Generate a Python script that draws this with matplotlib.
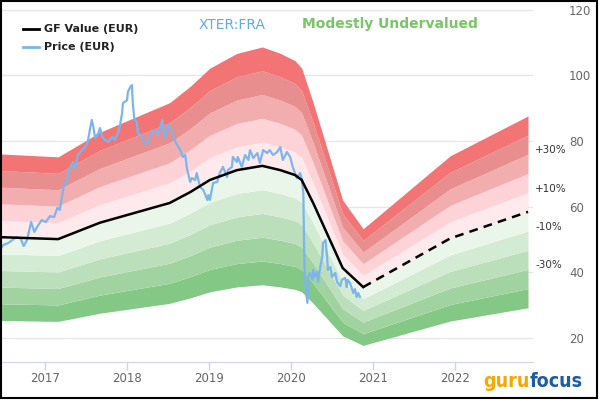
import matplotlib
matplotlib.use("Agg")
import matplotlib.pyplot as plt
import numpy as np
from matplotlib.patches import Rectangle

# GF Value (EUR), past part and projection
gf_dates = [2016.45, 2017.16, 2017.67, 2018.52, 2018.77, 2019.01, 2019.34, 2019.65,
            2019.87, 2020.05, 2020.13, 2020.27, 2020.63, 2020.88]
gf_values = [50.7, 50.1, 55.1, 61.1, 64.4, 68.1, 71.1, 72.4,
             71.1, 69.6, 68.1, 61.1, 41.3, 35.5]
proj_dates = [2020.88, 2021.94, 2022.89]
proj_values = [35.5, 50.3, 58.4]

# Price (EUR)
price_dates = [2016.45, 2016.49, 2016.55, 2016.60, 2016.65, 2016.70, 2016.74, 2016.78,
               2016.83, 2016.87, 2016.91, 2016.96, 2017.01, 2017.06, 2017.11, 2017.15,
               2017.18, 2017.21, 2017.23, 2017.27, 2017.30, 2017.34, 2017.37, 2017.40,
               2017.43, 2017.49, 2017.52, 2017.57, 2017.59, 2017.61, 2017.65, 2017.67,
               2017.70, 2017.73, 2017.77, 2017.82, 2017.85, 2017.89, 2017.91, 2017.94,
               2017.95, 2018.00, 2018.01, 2018.04, 2018.06, 2018.07, 2018.09, 2018.12,
               2018.13, 2018.18, 2018.19, 2018.24, 2018.26, 2018.30, 2018.34, 2018.38,
               2018.43, 2018.44, 2018.46, 2018.50, 2018.55, 2018.59, 2018.61, 2018.65,
               2018.68, 2018.71, 2018.73, 2018.77, 2018.79, 2018.83, 2018.85, 2018.89,
               2018.93, 2018.98, 2018.99, 2019.01, 2019.05, 2019.10, 2019.13, 2019.17,
               2019.22, 2019.23, 2019.28, 2019.29, 2019.34, 2019.35, 2019.40, 2019.44,
               2019.48, 2019.50, 2019.54, 2019.59, 2019.62, 2019.66, 2019.71, 2019.74,
               2019.78, 2019.83, 2019.87, 2019.90, 2019.95, 2019.99, 2020.02, 2020.07,
               2020.11, 2020.13, 2020.15, 2020.16, 2020.17, 2020.20, 2020.21, 2020.23,
               2020.26, 2020.27, 2020.29, 2020.32, 2020.33, 2020.35, 2020.38, 2020.39,
               2020.42, 2020.44, 2020.45, 2020.48, 2020.50, 2020.54, 2020.56, 2020.60,
               2020.62, 2020.66, 2020.68, 2020.69, 2020.72, 2020.74, 2020.76, 2020.78,
               2020.80, 2020.82, 2020.84]
price_values = [46.8, 48.3, 48.9, 49.8, 50.7, 50.4, 48.0, 49.8,
                55.3, 52.3, 54.1, 55.9, 55.3, 57.1, 56.8, 59.6,
                59.0, 63.5, 66.6, 68.1, 71.7, 73.6, 71.7, 75.7,
                76.6, 78.1, 79.7, 86.4, 84.2, 80.9, 82.4, 83.9,
                81.2, 80.3, 79.7, 81.2, 80.3, 82.4, 84.2, 88.5,
                91.5, 92.4, 94.9, 96.4, 97.0, 91.5, 86.4, 85.8,
                82.4, 81.8, 80.3, 78.8, 80.3, 82.4, 83.3, 81.8,
                86.4, 84.8, 80.9, 84.8, 83.3, 79.7, 78.8, 77.2,
                75.1, 75.7, 71.7, 67.5, 68.7, 68.1, 70.2, 66.0,
                65.1, 62.0, 63.5, 62.0, 67.2, 67.5, 70.2, 72.1,
                69.0, 71.1, 72.1, 75.1, 73.6, 75.1, 72.1, 75.7,
                74.2, 77.2, 74.8, 76.3, 73.3, 77.2, 76.3, 77.2,
                75.7, 76.6, 78.1, 74.2, 76.6, 75.1, 72.1, 68.7,
                70.2, 68.7, 64.1, 46.8, 36.7, 30.7, 38.6, 39.8,
                37.7, 40.7, 38.6, 40.1, 37.1, 40.7, 44.7, 48.9,
                49.8, 44.7, 40.7, 41.6, 38.6, 39.8, 37.1, 35.8,
                37.7, 38.3, 35.5, 37.7, 36.7, 35.2, 33.7, 34.9,
                32.5, 33.7, 32.5]

band_levels = [0.5, 0.6, 0.7, 0.8, 0.9, 1.0, 1.1, 1.2, 1.3, 1.4, 1.5]
band_colors = ['#84c885', '#a1d3a1', '#bcdfbb', '#d4ebd3', '#ebf6ea',
               '#feeaec', '#fdd3d7', '#f2aeae', '#e98e8e', '#f27474']
pct_labels = ['+30%', '+10%', '-10%', '-30%']
pct_levels = [1.3, 1.1, 0.9, 0.7]
year_ticks = [2017, 2018, 2019, 2020, 2021, 2022]
value_ticks = [20, 40, 60, 80, 100, 120]

plt.rcParams['font.family'] = ['DejaVu Sans']

fig = plt.figure(figsize=(6, 4.2), dpi=100)
# axes box in pixels: x 1..533, y 6..362 (from top)
ax = fig.add_axes([1 / 600, 1 - 362 / 420, 532 / 600, 356 / 420])

all_dates = np.array(gf_dates + proj_dates[1:])
all_gf = np.array(gf_values + proj_values[1:])
for i in range(len(band_levels) - 1):
    ax.fill_between(all_dates, all_gf * band_levels[i], all_gf * band_levels[i + 1],
                    color=band_colors[i], lw=0, zorder=1)

ax.plot(price_dates, price_values, color='#7cb5ec', lw=1.6, zorder=3)
ax.plot(gf_dates, gf_values, color='black', lw=1.8, zorder=4)
ax.plot(proj_dates, proj_values, color='black', lw=1.8, ls=(0, (3.5, 2.5)), zorder=4)

ax.set_xlim(2016.463, 2022.951)
ax.set_ylim(12.69, 121.07)

ax.set_yticks(value_ticks)
ax.yaxis.tick_right()
ax.tick_params(axis='y', length=0, pad=26, labelsize=8.5, labelcolor='#666666')
ax.grid(axis='y', color='#e6e6e6', lw=1)
ax.set_axisbelow(True)

ax.set_xticks(year_ticks)
ax.tick_params(axis='x', length=6, width=1, color='#ccd6eb', pad=1.5,
               labelsize=8.5, labelcolor='#666666')
for s in ['top', 'left', 'right']:
    ax.spines[s].set_visible(False)
ax.spines['bottom'].set_color('#ccd6eb')

gf_end = proj_values[-1]
for lab, lv in zip(pct_labels, pct_levels):
    ax.annotate(lab, xy=(1, gf_end * lv), xycoords=('axes fraction', 'data'),
                xytext=(1.5, 3), textcoords='offset points', ha='left', va='center',
                fontsize=7.5, color='#333333')

# legend
fig.lines.append(plt.Line2D([23 / 600, 39 / 600], [1 - 29 / 420] * 2, color='black',
                            lw=2, transform=fig.transFigure))
fig.lines.append(plt.Line2D([23 / 600, 39 / 600], [1 - 46.5 / 420] * 2, color='#7cb5ec',
                            lw=2, transform=fig.transFigure))
fig.text(44 / 600, 1 - 29 / 420, 'GF Value (EUR)', fontsize=8, weight='bold',
         color='#222222', va='center', ha='left')
fig.text(44 / 600, 1 - 46.5 / 420, 'Price (EUR)', fontsize=8, weight='bold',
         color='#222222', va='center', ha='left')
fig.text(232 / 600, 1 - 25 / 420, 'XTER:FRA', fontsize=10, color='#5fa9ef',
         va='center', ha='center')
fig.text(302 / 600, 1 - 24 / 420, 'Modestly Undervalued', fontsize=10, color='#78c668',
         va='center', ha='left', weight='bold')

# logo
fig.text(530 / 600, 1 - 387 / 420, 'guru', fontsize=14, weight='bold', color='#f5a800',
         fontstretch='condensed', ha='right', va='baseline')
fig.text(530 / 600, 1 - 387 / 420, 'focus', fontsize=14, weight='bold', color='#1d5ba6',
         fontstretch='condensed', ha='left', va='baseline')

fig.patches.append(Rectangle((0.5 / 600, 1 - 398 / 420), 596.5 / 600, 397.5 / 420,
                             fill=False, edgecolor='black', lw=1.5,
                             transform=fig.transFigure))

fig.savefig('out.png', dpi=100)
